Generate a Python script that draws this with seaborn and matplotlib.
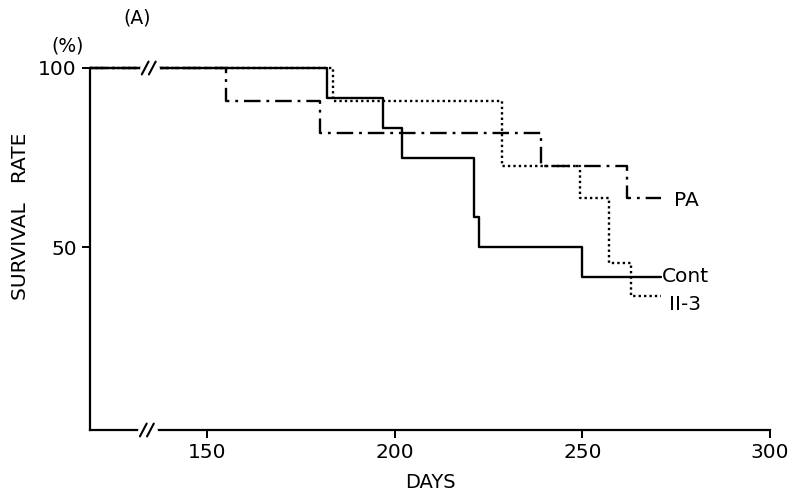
import numpy as np
import pandas as pd
import matplotlib
matplotlib.use("Agg")
import matplotlib.pyplot as plt
import seaborn as sns

# ---- data ----
start_day = 118.8
cont_days = [start_day, 182, 197, 202, 221, 222.5, 250, 271]
cont_surv = [100, 91.7, 83.3, 75.0, 58.3, 50.0, 41.7, 41.7]
ii3_days = [start_day, 183.5, 228.5, 249.5, 257, 263, 271]
ii3_surv = [100, 90.9, 72.7, 63.6, 45.5, 36.4, 36.4]
pa_days = [start_day, 155, 180, 239, 262, 271]
pa_surv = [100, 90.9, 81.8, 72.7, 63.6, 63.6]
groups = ["Cont", "II-3", "PA"]
x_ticks = [150, 200, 250, 300]
y_ticks = [50, 100]

df = pd.concat([
    pd.DataFrame({"group": "Cont", "day": cont_days, "surv": cont_surv}),
    pd.DataFrame({"group": "II-3", "day": ii3_days, "surv": ii3_surv}),
    pd.DataFrame({"group": "PA", "day": pa_days, "surv": pa_surv}),
], ignore_index=True)

sns.set_style("ticks")
plt.rcParams["font.family"] = ["DejaVu Sans"]
for k in ["text.color", "axes.labelcolor", "xtick.color", "ytick.color", "axes.edgecolor"]:
    plt.rcParams[k] = "black"

fig = plt.figure(figsize=(7.92, 4.97), dpi=100)
ax = fig.add_axes([90 / 792, 67 / 497, (770 - 90) / 792, (430 - 68) / 497])

sns.lineplot(data=df, x="day", y="surv", hue="group", style="group",
             palette={g: "black" for g in groups},
             dashes={"Cont": "", "II-3": (1.0, 1.3), "PA": (7, 2.5, 1.2, 2.5)},
             estimator=None, sort=False, drawstyle="steps-post",
             linewidth=1.7, legend=False, ax=ax, clip_on=False)

ax.set_xlim(start_day, 300)
ax.set_ylim(-1.1, 100)
ax.set_xticks(x_ticks)
ax.set_yticks(y_ticks)
ax.tick_params(axis="both", labelsize=14.5, width=1.4, length=6, color="black",
               labelcolor="black")
for s in ["top", "right"]:
    ax.spines[s].set_visible(False)
for s in ["left", "bottom"]:
    ax.spines[s].set_linewidth(1.6)
    ax.spines[s].set_color("black")
ax.set_xlabel("DAYS", fontsize=14, labelpad=8)
ax.set_ylabel("SURVIVAL   RATE", fontsize=14.5)
ax.yaxis.set_label_coords(-0.088, 0.59)

# axis break marks
def brk(x, y):
    ax.plot([x - 1.5, x + 1.8], [y, y], color="white", lw=5, clip_on=False, zorder=5)
    for dx in (-1.0, 0.9):
        ax.plot([x + dx - 0.9, x + dx + 0.9], [y - 1.8, y + 1.8], color="black",
                lw=1.5, clip_on=False, zorder=6)

brk(134.5, 100)
brk(134.0, -1.1)

# series labels
ax.text(274.5, 63.0, "PA", fontsize=14.5, va="center", ha="left")
ax.text(271.3, 41.7, "Cont", fontsize=14.5, va="center", ha="left")
ax.text(273.0, 34.0, "II-3", fontsize=14.5, va="center", ha="left")

fig.text(68 / 792, 1 - 46 / 497, "(%)", fontsize=13.5, ha="center", va="center")
fig.text(137 / 792, 1 - 18 / 497, "(A)", fontsize=13.5, ha="center", va="center")

fig.savefig("out.png", dpi=100)
